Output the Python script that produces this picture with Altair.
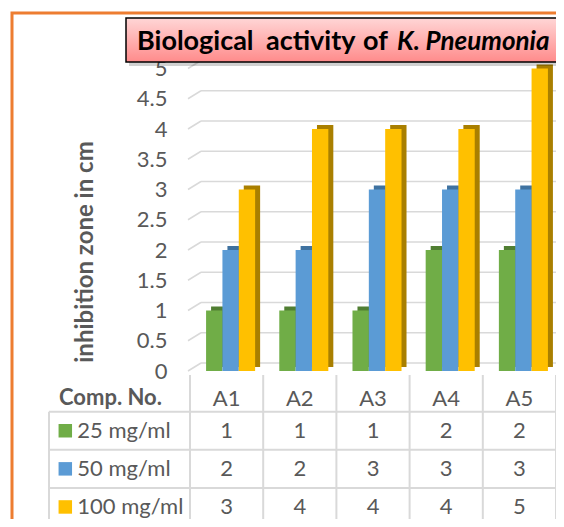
import altair as alt
import pandas as pd

# ---------------- data ----------------
compounds = ["A1", "A2", "A3", "A4", "A5"]
series = ["25 mg/ml", "50 mg/ml", "100 mg/ml"]
vals_25 = [1, 1, 1, 2, 2]
vals_50 = [2, 2, 3, 3, 3]
vals_100 = [3, 4, 4, 4, 5]
y_ticks = [0, 0.5, 1, 1.5, 2, 2.5, 3, 3.5, 4, 4.5, 5]

title_words = ["Biological", "activity", "of"]
title_words_x = [129, 258, 355]
title_species = "K. Pneumonia"
y_title = "inhibition zone in cm"
table_header = "Comp. No."

front_colors = ["#70AD47", "#5B9BD5", "#FFC000"]
dark_colors = ["#507E32", "#3F72A0", "#A97F00"]
FONT = "Lato"
TXT = "#595959"
GRID = "#D9D9D9"

rows = []
for s, vals in zip(series, [vals_25, vals_50, vals_100]):
    for c, v in zip(compounds, vals):
        rows.append({"comp": c, "series": s, "value": v})
df = pd.DataFrame(rows)
grid_df = pd.DataFrame({"v": y_ticks})
comp_df = pd.DataFrame({"comp": compounds})
series_df = pd.DataFrame({"series": series})
title_df = pd.DataFrame({"word": title_words, "px": title_words_x})
one = pd.DataFrame({"k": [0]})

# ---------------- scales ----------------
y_scale = alt.Scale(domain=[0, 5], range=[363, 60.5], nice=False)
bar_x = alt.Scale(domain=compounds, range=[186, 552], paddingInner=0.33, paddingOuter=0.165)
bar_x_depth = alt.Scale(domain=compounds, range=[191, 557], paddingInner=0.33, paddingOuter=0.165)
tab_x = alt.Scale(domain=compounds, range=[182, 548], paddingInner=0, paddingOuter=0)
row_y = alt.Scale(domain=series, range=[403.7, 518], paddingInner=0, paddingOuter=0)
xoff_scale = alt.Scale(domain=series, paddingInner=0, paddingOuter=0)

# ---------------- frame & title ----------------
border = alt.Chart(one).mark_rect(fill="white", fillOpacity=0, stroke="#ED7D31", strokeWidth=3).encode(
    x=alt.value(4), x2=alt.value(620), y=alt.value(5), y2=alt.value(620))

shadow = alt.Chart(one).mark_rect(color="#000000", opacity=0.18).encode(
    x=alt.value(121), x2=alt.value(558), y=alt.value(13), y2=alt.value(58))
title_box = alt.Chart(one).mark_rect(
    fill=alt.Gradient(gradient="linear", x1=0, x2=0, y1=0, y2=1,
                      stops=[alt.GradientStop(color="#FFD6D6", offset=0),
                             alt.GradientStop(color="#FF8B8B", offset=1)]),
    stroke="#000000", strokeWidth=1.5).encode(
    x=alt.value(118), x2=alt.value(554), y=alt.value(10), y2=alt.value(54))
title_reg = alt.Chart(title_df).mark_text(
    font=FONT, fontSize=27, fontWeight="bold", align="left", baseline="alphabetic",
    color="#000000").encode(
    x=alt.X("px:Q", scale=None), y=alt.value(41.5), text="word:N")
title_it = alt.Chart(one).mark_text(
    text=title_species, font=FONT, fontSize=26, fontWeight="bold", fontStyle="italic",
    align="left", baseline="alphabetic", color="#000000").encode(
    x=alt.value(389), y=alt.value(41.5))

ytitle = alt.Chart(one).mark_text(text=y_title, font=FONT, fontSize=24, fontWeight="bold",
                                  angle=270, align="center", baseline="alphabetic", color=TXT).encode(
    x=alt.value(85), y=alt.value(244))

# ---------------- gridlines (3D back wall) ----------------
grid_h = alt.Chart(grid_df).mark_rule(color=GRID, strokeWidth=1.5, yOffset=-8).encode(
    x=alt.value(193), x2=alt.value(600),
    y=alt.Y("v:Q", scale=y_scale, axis=None))
grid_s = alt.Chart(grid_df).mark_rule(color=GRID, strokeWidth=1.5, yOffset=0, y2Offset=-8).encode(
    x=alt.value(180), x2=alt.value(193),
    y=alt.Y("v:Q", scale=y_scale, axis=None), y2="v:Q")

# ---------------- bars ----------------
bars_dark = alt.Chart(df).mark_bar(yOffset=-4, y2Offset=-4).encode(
    x=alt.X("comp:N", scale=bar_x_depth, axis=None),
    xOffset=alt.XOffset("series:N", scale=xoff_scale, sort=series),
    y=alt.Y("value:Q", scale=y_scale, axis=None),
    color=alt.Color("series:N", scale=alt.Scale(domain=series, range=dark_colors), legend=None))
bars = alt.Chart(df).mark_bar().encode(
    x=alt.X("comp:N", scale=bar_x, axis=None),
    xOffset=alt.XOffset("series:N", scale=xoff_scale, sort=series),
    y=alt.Y("value:Q", scale=y_scale,
            axis=alt.Axis(values=y_ticks, format="~g", domain=False, ticks=False, grid=False,
                          labelPadding=2, offset=-161, labelFont=FONT, labelFontSize=22,
                          labelColor=TXT, title=None)),
    color=alt.Color("series:N", scale=alt.Scale(domain=series, range=front_colors), legend=None))

# ---------------- data table ----------------
col_lines = alt.Chart(comp_df).mark_rule(color=GRID, strokeWidth=2).encode(
    x=alt.X("comp:N", scale=tab_x, axis=None, bandPosition=0),
    y=alt.value(367), y2=alt.value(530))
col_last = alt.Chart(comp_df.tail(1)).mark_rule(color=GRID, strokeWidth=2).encode(
    x=alt.X("comp:N", scale=tab_x, axis=None, bandPosition=1),
    y=alt.value(367), y2=alt.value(530))
left_line = alt.Chart(one).mark_rule(color=GRID, strokeWidth=2).encode(
    x=alt.value(41), y=alt.value(403.7), y2=alt.value(530))
row_lines = alt.Chart(series_df).mark_rule(color=GRID, strokeWidth=2).encode(
    y=alt.Y("series:N", scale=row_y, axis=None, bandPosition=0),
    x=alt.value(41), x2=alt.value(548))
row_last = alt.Chart(series_df.tail(1)).mark_rule(color=GRID, strokeWidth=2).encode(
    y=alt.Y("series:N", scale=row_y, axis=None, bandPosition=1),
    x=alt.value(41), x2=alt.value(548))

header_lbl = alt.Chart(one).mark_text(text=table_header, font=FONT, fontSize=22, fontWeight="bold",
                                      align="left", baseline="middle", color=TXT).encode(
    x=alt.value(51), y=alt.value(389.5))
header_cols = alt.Chart(comp_df).mark_text(font=FONT, fontSize=22, baseline="middle", color=TXT).encode(
    x=alt.X("comp:N", scale=tab_x, axis=None),
    y=alt.value(390.5), text="comp:N")
cells = alt.Chart(df).mark_text(font=FONT, fontSize=22, baseline="middle", color=TXT).encode(
    x=alt.X("comp:N", scale=tab_x, axis=None),
    y=alt.Y("series:N", scale=row_y, axis=None),
    text="value:Q")
row_lbl = alt.Chart(series_df).mark_text(font=FONT, fontSize=22, align="left", baseline="middle",
                                         color=TXT).encode(
    x=alt.value(69.3),
    y=alt.Y("series:N", scale=row_y, axis=None),
    text="series:N")
row_sq = alt.Chart(series_df).mark_point(shape="square", filled=True, size=182, opacity=1).encode(
    x=alt.value(57.3),
    y=alt.Y("series:N", scale=row_y, axis=None),
    color=alt.Color("series:N", scale=alt.Scale(domain=series, range=front_colors), legend=None))

chart = alt.layer(
    border, grid_h, grid_s, bars_dark, bars,
    col_lines, col_last, left_line, row_lines, row_last,
    header_lbl, header_cols, cells, row_lbl, row_sq,
    ytitle, shadow, title_box, title_reg, title_it,
).resolve_scale(x="independent", y="independent", color="independent").properties(
    width=548, height=511, autosize=alt.AutoSizeParams(type="none"), padding=0
).configure_view(stroke=None)

chart.save("out.html", embed_options={"renderer": "svg", "actions": False})
